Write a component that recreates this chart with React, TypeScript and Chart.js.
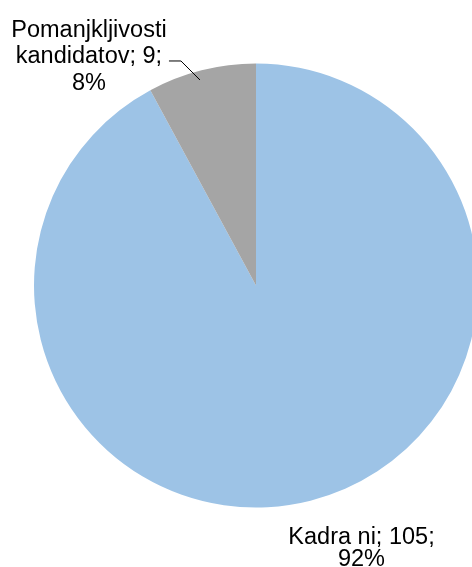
import React, { useEffect, useRef } from "react";
import { Chart, registerables } from "chart.js";

Chart.register(...registerables);

const categories = ["Kadra ni", "Pomanjkljivosti kandidatov"];
const values = [105, 9];
const colors = ["#9DC3E6", "#A5A5A5"];

const FONT = '23.5px "Liberation Sans", Arial, sans-serif';

const labelPlugin = {
  id: "pieLabels",
  afterDraw(chart: any) {
    const ctx = chart.ctx;
    const meta = chart.getDatasetMeta(0);
    const data = chart.data.datasets[0].data as number[];
    const total = data.reduce((a: number, b: number) => a + b, 0);
    ctx.save();
    ctx.font = FONT;
    ctx.fillStyle = "#000";
    ctx.textAlign = "center";
    ctx.textBaseline = "alphabetic";
    meta.data.forEach((arc: any, i: number) => {
      const { x, y, outerRadius, startAngle, endAngle } = arc.getProps(
        ["x", "y", "outerRadius", "startAngle", "endAngle"],
        true
      );
      const mid = (startAngle + endAngle) / 2;
      const pct = Math.round((data[i] / total) * 100) + "%";
      const cats = chart.data.labels[i] as string;
      if (i === 0) {
        const ox = x + Math.cos(mid) * outerRadius;
        const oy = y + Math.sin(mid) * outerRadius;
        const cx = ox + 51;
        ctx.fillText(cats + "; " + data[i] + ";", cx, oy + 43);
        ctx.fillText(pct, cx, oy + 65);
      } else {
        const ex = x + Math.cos(mid) * outerRadius * 0.955 - 4;
        const ey = y + Math.sin(mid) * outerRadius * 0.955;
        const elbowX = ex - 19;
        const elbowY = ey - 19;
        ctx.strokeStyle = "#000";
        ctx.lineWidth = 1;
        ctx.beginPath();
        ctx.moveTo(ex, ey);
        ctx.lineTo(elbowX, elbowY);
        ctx.lineTo(elbowX - 12, elbowY);
        ctx.stroke();
        const parts = cats.split(" ");
        const cx = elbowX - 92;
        ctx.fillText(parts[0], cx, elbowY - 24);
        ctx.fillText(parts[1] + "; " + data[i] + ";", cx, elbowY + 2);
        ctx.fillText(pct, cx, elbowY + 29);
      }
    });
    ctx.restore();
  },
};

export default function App() {
  const ref = useRef<HTMLCanvasElement>(null);
  useEffect(() => {
    if (!ref.current) return;
    const chart = new Chart(ref.current, {
      type: "pie",
      data: {
        labels: categories,
        datasets: [
          {
            data: values,
            backgroundColor: colors,
            borderWidth: 0,
            clip: false as any,
          },
        ],
      },
      options: {
        animation: false,
        responsive: false,
        layout: { padding: { left: 34, right: 34, top: 63.5, bottom: 59.5 } },
        plugins: {
          legend: { display: false },
          tooltip: { enabled: false },
        },
      },
      plugins: [labelPlugin],
    });
    return () => chart.destroy();
  }, []);
  return (
    <div
      style={{
        position: "fixed",
        left: 0,
        top: 0,
        width: 472,
        height: 567,
        overflow: "hidden",
        background: "#fff",
      }}
    >
      <canvas ref={ref} width={512} height={567} style={{ display: "block" }} />
    </div>
  );
}
